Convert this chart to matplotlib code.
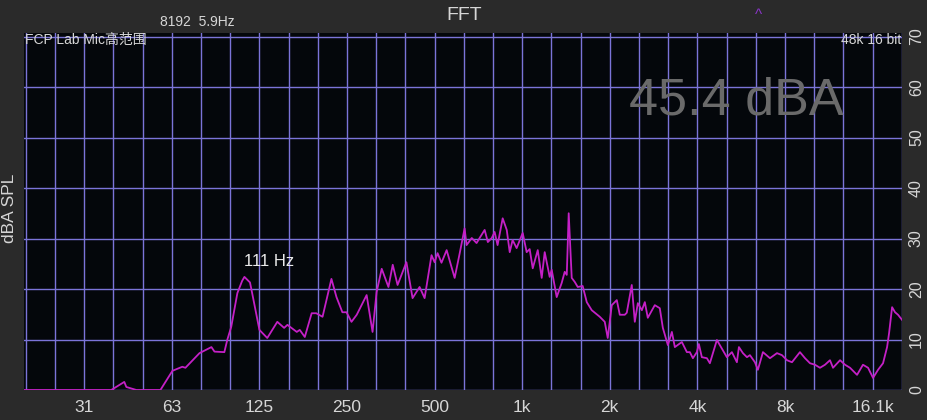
import matplotlib
matplotlib.use('Agg')
import matplotlib.pyplot as plt

# spectrum (Hz, dBA)
freqs = [19.4, 38.7, 42.9, 43.6, 45.3, 47.2, 57.1, 62.8, 67.9, 69.6, 77.8, 85.5, 87.6,
         94.7, 97, 100, 105, 109, 111, 116, 118, 125, 133, 144, 152, 156, 168, 172, 179, 189,
         196, 206, 221, 230, 241, 249, 259, 270, 292, 306, 316, 329, 347, 359, 373,
         400, 420, 444, 462, 488, 500, 512, 528, 550, 586, 610, 634, 644, 671, 697,
         714, 743, 762, 786, 804, 823, 857, 885, 906, 927, 957, 1004, 1036, 1061,
         1087, 1131, 1167, 1195, 1243, 1263, 1314, 1367, 1400, 1423, 1445, 1480,
         1516, 1552, 1614, 1667, 1734, 1848, 1922, 1968, 2032, 2114, 2165, 2252,
         2288, 2380, 2438, 2497, 2578, 2639, 2702, 2856, 2971, 3044, 3167, 3269,
         3347, 3538, 3681, 3769, 3861, 3984, 4048, 4144, 4313, 4416, 4668, 5052,
         5257, 5469, 5557, 5736, 5922, 6063, 6307, 6457, 6721, 7105, 7510, 7813,
         8128, 8457, 9007, 9375, 9754, 10148, 10556, 10983, 11425, 11703, 12372,
         12870, 13389, 14152, 14833, 15443, 16064, 16713, 17386, 17952, 18240,
         18677, 19118, 19573, 20200]
levels = [0, 0, 1.6, 0.6, 0.3, 0, 0, 3.8, 4.6, 4.4, 7.3, 8.5, 7.6,
          7.5, 10, 12.5, 19.2, 21.6, 22.4, 21.3, 19.2, 11.9, 10.3, 13.5, 12.3, 12.9, 11.5, 11.9, 10.5, 15.2,
          15.2, 14.5, 22, 18.4, 15.4, 15.4, 13.5, 14.9, 18.8, 11.5, 19.4, 24, 20.4, 24.8, 20.8,
          25.3, 18.2, 20.4, 18.2, 26.7, 25.3, 27.1, 25.2, 27.7, 22.2, 27.1, 32, 28.7, 30.1, 29.1,
          30.1, 31.7, 29.3, 30.1, 31.3, 28.7, 34, 31.7, 27.3, 29.7, 28.1, 31.1, 27.3, 27.9,
          24.1, 27.7, 22.2, 27.3, 22.4, 23.8, 18.4, 21.2, 23.4, 22.8, 35, 22.2,
          21.4, 20.4, 20.6, 17.4, 15.8, 14.5, 13.5, 10.3, 16.8, 17.8, 14.9, 14.9,
          15.3, 20.8, 13.5, 17.2, 15.8, 17.4, 14.3, 16.8, 16.2, 12.3, 8.9, 11.5,
          8.5, 9.5, 7.5, 7.5, 6.3, 7.5, 9.1, 6.5, 6.3, 5.3, 9.9, 6.5,
          7.5, 5.5, 8.5, 7.3, 6.5, 6.9, 5.5, 4.0, 7.5, 6.3, 7.3, 6.9,
          5.9, 5.5, 7.5, 6.3, 5.3, 5.0, 4.4, 5.0, 5.9, 4.4, 5.9,
          5.0, 4.4, 3.0, 5.0, 4.4, 2.4, 4.0, 5.3, 8.5, 11.3,
          16.4, 15.4, 14.9, 13.9]

tick_freqs = [31.25, 62.5, 125, 250, 500, 1000, 2000, 4000, 8000, 16000]
tick_labels = ['31', '63', '125', '250', '500', '1k', '2k', '4k', '8k', '16.1k']
db_ticks = [0, 10, 20, 30, 40, 50, 60, 70]
peak_freq = 111

BG = '#2a2a2a'
PLOT_BG = '#04070b'
GRID = '#7b74d8'
TXT = '#d6d6d6'
SANS = ['Liberation Sans', 'Noto Sans CJK SC']

fig = plt.figure(figsize=(9.28, 4.2), dpi=100, facecolor=BG)
ax = fig.add_axes([24/928, 1 - 390/420, 878/928, 357/420])
ax.set_facecolor(PLOT_BG)

# third-octave grid
for k in range(-17, 14):
    ax.axvline(1000 * 2 ** (k / 3.0), color=GRID, lw=1.0, zorder=1)
for d in db_ticks:
    ax.axhline(d, color=GRID, lw=1.0, zorder=1)

ax.plot(freqs, levels, color='#c420c6', lw=1.3, zorder=3, solid_joinstyle='round')

ax.set_xscale('log')
ax.set_xlim(19.4, 20200)
ax.set_ylim(0, 70.7)
for s in ax.spines.values():
    s.set_visible(False)

ax.set_xticks(tick_freqs)
ax.set_xticklabels(tick_labels)
ax.xaxis.set_minor_locator(matplotlib.ticker.NullLocator())
ax.tick_params(axis='x', length=0, pad=7, labelsize=12.5, labelcolor=TXT)
for t in ax.get_xticklabels():
    t.set_family(SANS)

ax.yaxis.tick_right()
ax.set_yticks(db_ticks)
ax.tick_params(axis='y', length=0, pad=5, labelsize=11.5, labelcolor=TXT)
for t in ax.get_yticklabels():
    t.set_rotation(90)
    t.set_va('center')
    t.set_family(SANS)

fig.text(10/928, 1 - 208/420, 'dBA SPL', rotation=90, ha='center', va='center',
         color=TXT, fontsize=12.5, family=SANS)
fig.text(464/928, 1 - 15/420, 'FFT', ha='center', va='center', color=TXT,
         fontsize=14, family=SANS)
fig.text(160/928, 1 - 22/420, '8192  5.9Hz', ha='left', va='center', color=TXT,
         fontsize=10, family=SANS)
fig.text(758/928, 1 - 15/420, '^', ha='center', va='center', color='#8a35c8',
         fontsize=11, family=SANS)
fig.text(25/928, 1 - 40/420, 'FCP Lab Mic高范围', ha='left', va='center', color=TXT,
         fontsize=10, family=SANS)
fig.text(901/928, 1 - 40/420, '48k 16 bit', ha='right', va='center', color=TXT,
         fontsize=10, family=SANS)
fig.text(736/928, 1 - 101/420, '45.4 dBA', ha='center', va='center', color='#6a6a6a',
         fontsize=37.5, family=SANS)

ax.text(peak_freq, 25.5, '111 Hz', ha='left', va='center', color='#eaeaea',
        fontsize=12, family=SANS, zorder=4)

fig.savefig('out.png', dpi=100, facecolor=BG)
